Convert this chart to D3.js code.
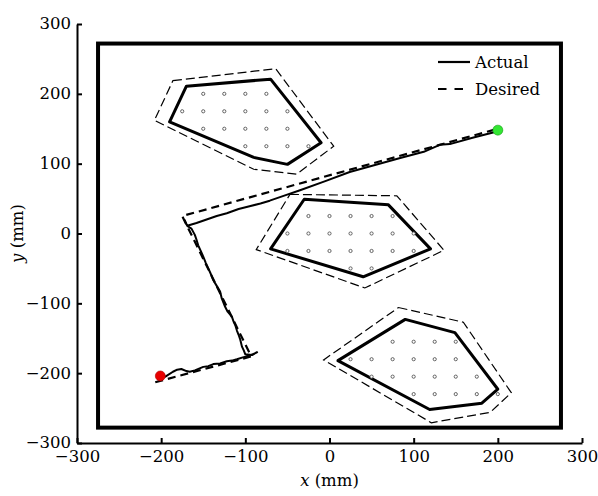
<!DOCTYPE html>
<html>
<head>
<meta charset="utf-8">
<script src="https://cdn.jsdelivr.net/npm/d3@7"></script>
<style>
  body { margin: 0; background: #fff; }
  text { font-family: "DejaVu Serif", serif; fill: #000; }
</style>
</head>
<body>
<div class="chart"></div>
<script>
// axes
const xTicks = [-300, -200, -100, 0, 100, 200, 300]
const yTicks = [-300, -200, -100, 0, 100, 200, 300]

// workspace boundary [xmin, xmax, ymin, ymax]
const workspace = [-275, 275, -278, 272]

// obstacles (solid) and their safety margins (dashed)
const obstacle1 = [[-170, 211], [-70, 221], [-10, 130], [-50, 99], [-90, 109], [-190, 160]]
const margin1 = [[-186, 219], [-64, 236], [5, 125], [-39, 85], [-90, 92], [-208, 162]]
const obstacle2 = [[-30, 49], [70, 41], [120, -22], [40, -62], [-70, -22]]
const margin2 = [[-47, 56], [80, 54], [136, -24], [42, -78], [-87, -23]]
const obstacle3 = [[90, -123], [149, -142], [200, -223], [181, -243], [119, -252], [10, -182]]
const margin3 = [[82, -106], [159, -127], [216, -228], [191, -256], [121, -271], [-7, -181]]

// grid of points inside each obstacle, one row per y
const dots1 = [
  {y: 200, xs: [-150, -125, -100, -75]},
  {y: 175, xs: [-175, -150, -125, -100, -75, -50]},
  {y: 150, xs: [-150, -125, -100, -75, -50]},
  {y: 125, xs: [-100, -75, -50, -25]}
]
const dots2 = [
  {y: 25, xs: [-25, 0, 25, 50, 75]},
  {y: 0, xs: [-50, -25, 0, 25, 50, 75, 100]},
  {y: -25, xs: [-50, -25, 0, 25, 50, 75, 100]},
  {y: -50, xs: [25, 50]}
]
const dots3 = [
  {y: -155, xs: [75, 100, 125, 150]},
  {y: -180, xs: [25, 50, 75, 100, 125, 150]},
  {y: -205, xs: [50, 75, 100, 125, 150, 175]},
  {y: -230, xs: [100, 125, 150, 175, 200]}
]

// trajectories
const desired = [[-207, -213], [-93, -176], [-175, 25], [200, 150]]
const actual = [
  [-201, -204], [-195, -205], [-186, -198], [-181, -195], [-176, -194], [-170, -197],
  [-166, -198], [-160, -196], [-150, -191], [-144, -190], [-138, -187], [-130, -186],
  [-122, -183], [-116, -182], [-110, -180], [-102, -177], [-95, -175], [-86, -170],
  [-92, -174], [-100, -173], [-102, -167], [-104, -162], [-106, -152], [-108, -145],
  [-110, -139], [-112, -131], [-114, -126], [-116, -119], [-121, -112], [-124, -105],
  [-126, -99], [-128, -93], [-129, -88], [-130, -83], [-134, -75], [-138, -67],
  [-141, -58], [-144, -50], [-147, -42], [-150, -33], [-153, -25], [-156, -17],
  [-158, -9], [-160, -2], [-164, 7], [-168, 10], [-170, 13], [-172, 19],
  [-169, 11], [-158, 15], [-146, 20], [-134, 25], [-122, 29], [-108, 35],
  [-95, 39], [-82, 43], [-71, 47], [-52, 55], [-35, 62], [-5, 75], [24, 88],
  [54, 98], [84, 108], [112, 117], [131, 127], [143, 128], [170, 137], [199, 146]
]
const startPoint = [-201, -204]
const endPoint = [200, 148]

const legendItems = ["Actual", "Desired"]

const width = 598
const height = 496

const x = d3.scaleLinear().domain([-300, 300]).range([77, 582])
const y = d3.scaleLinear().domain([-300, 300]).range([443, 24])

const svg = d3.select(".chart").append("svg")
  .attr("width", width)
  .attr("height", height)

const line = d3.line().x(d => x(d[0])).y(d => y(d[1]))
const closed = d3.line().x(d => x(d[0])).y(d => y(d[1])).curve(d3.curveLinearClosed)

// workspace box
svg.append("rect")
  .attr("x", x(workspace[0]))
  .attr("y", y(workspace[3]))
  .attr("width", x(workspace[1]) - x(workspace[0]))
  .attr("height", y(workspace[2]) - y(workspace[3]))
  .attr("fill", "none")
  .attr("stroke", "#000")
  .attr("stroke-width", 4)

// obstacles
const obstacles = [
  {solid: obstacle1, dashed: margin1, dots: dots1},
  {solid: obstacle2, dashed: margin2, dots: dots2},
  {solid: obstacle3, dashed: margin3, dots: dots3}
]

obstacles.forEach(function(o) {
  svg.append("path")
    .attr("d", closed(o.dashed))
    .attr("fill", "none")
    .attr("stroke", "#000")
    .attr("stroke-width", 1.2)
    .attr("stroke-dasharray", "9,4")

  svg.append("path")
    .attr("d", closed(o.solid))
    .attr("fill", "none")
    .attr("stroke", "#000")
    .attr("stroke-width", 3)
    .attr("stroke-linejoin", "round")

  const pts = []
  o.dots.forEach(r => r.xs.forEach(v => pts.push([v, r.y])))
  svg.append("g").selectAll("circle")
    .data(pts)
    .enter()
    .append("circle")
    .attr("cx", d => x(d[0]))
    .attr("cy", d => y(d[1]))
    .attr("r", 1.6)
    .attr("fill", "#fff")
    .attr("stroke", "#555")
    .attr("stroke-width", 0.9)
})

// trajectories
svg.append("path")
  .attr("d", line(desired))
  .attr("fill", "none")
  .attr("stroke", "#000")
  .attr("stroke-width", 2.2)
  .attr("stroke-dasharray", "8,5")

svg.append("path")
  .attr("d", line(actual))
  .attr("fill", "none")
  .attr("stroke", "#000")
  .attr("stroke-width", 2)
  .attr("stroke-linejoin", "round")

svg.append("circle")
  .attr("cx", x(startPoint[0]))
  .attr("cy", y(startPoint[1]))
  .attr("r", 5)
  .attr("fill", "#e80000")
  .attr("stroke", "#b00000")
  .attr("stroke-width", 0.6)

svg.append("circle")
  .attr("cx", x(endPoint[0]))
  .attr("cy", y(endPoint[1]))
  .attr("r", 5)
  .attr("fill", "#33e633")
  .attr("stroke", "#1a9a1a")
  .attr("stroke-width", 0.6)

// axes
const xAxis = d3.axisBottom(x).tickValues(xTicks).tickSizeInner(-5).tickSizeOuter(0).tickPadding(7)
const yAxis = d3.axisLeft(y).tickValues(yTicks).tickSizeInner(-5).tickSizeOuter(0).tickPadding(6)

const gx = svg.append("g").attr("transform", "translate(0," + y(-300) + ")").call(xAxis)
const gy = svg.append("g").attr("transform", "translate(" + x(-300) + ",0)").call(yAxis)

;[gx, gy].forEach(function(g) {
  g.select(".domain").attr("stroke-width", 2)
  g.selectAll(".tick line").attr("stroke-width", 2)
  g.selectAll(".tick text")
    .attr("font-family", "DejaVu Serif")
    .attr("font-size", "16.5px")
    .attr("fill", "#000")
})
gy.selectAll(".tick text").attr("dy", "0.3em")

// axis labels
const xl = svg.append("text")
  .attr("x", x(0))
  .attr("y", 486)
  .attr("text-anchor", "middle")
  .attr("font-size", "16.5px")
xl.append("tspan").attr("font-style", "italic").text("x")
xl.append("tspan").text(" (mm)")

const yl = svg.append("text")
  .attr("transform", "translate(23," + y(0) + ") rotate(-90)")
  .attr("text-anchor", "middle")
  .attr("font-size", "16.5px")
yl.append("tspan").attr("font-style", "italic").text("y")
yl.append("tspan").text(" (mm)")

// legend
const legend = svg.append("g").selectAll("g")
  .data(legendItems)
  .enter()
  .append("g")
  .attr("transform", (d, i) => "translate(438," + (62 + i * 27) + ")")

legend.append("line")
  .attr("x1", 0)
  .attr("x2", 32)
  .attr("stroke", "#000")
  .attr("stroke-width", 2.2)
  .attr("stroke-dasharray", (d, i) => i === 0 ? null : "8.5,8")

legend.append("text")
  .attr("x", 37)
  .attr("y", 5.5)
  .attr("font-size", "16.5px")
  .text(d => d)
</script>
</body>
</html>
